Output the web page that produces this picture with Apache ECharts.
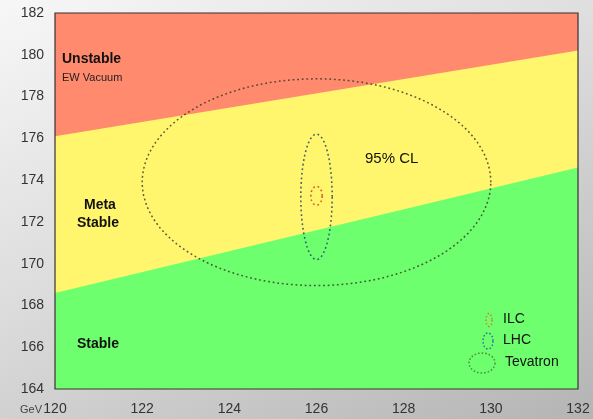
<!DOCTYPE html>
<html>
<head>
<meta charset="utf-8">
<script src="https://cdn.jsdelivr.net/npm/echarts@6/dist/echarts.min.js"></script>
<style>
  html, body { margin: 0; padding: 0; }
  body {
    width: 593px; height: 419px; overflow: hidden;
    background: linear-gradient(155deg, #f7f7f7 0%, #dcdcdc 45%, #b4b4b4 100%);
  }
  #chart { width: 593px; height: 419px; }
</style>
</head>
<body>
<div id="chart"></div>
<script>
// Higgs mass (GeV) axis and top mass axis ticks
const xTicks = [120, 122, 124, 126, 128, 130, 132];
const yTicks = [164, 166, 168, 170, 172, 174, 176, 178, 180, 182];

// Stability boundaries: [mH, mt] at both ends of the mH range
const upperBoundary = [[120, 176.1], [132, 180.2]];   // unstable / meta-stable
const lowerBoundary = [[120, 168.6], [132, 174.6]];   // meta-stable / stable
const topEdge = [[120, 182], [132, 182]];

// 95% CL regions: [centre mH, centre mt, half-width mH, half-height mt]
const ilc = [126, 173.25, 0.13, 0.45];
const lhc = [126, 173.2, 0.36, 3.0];
const tevatron = [126, 173.9, 4.0, 4.95];

const font = '"Liberation Sans", Arial, Helvetica, sans-serif';

function band(data, color) {
  return {
    type: 'line', data: data, symbol: 'none', silent: true,
    lineStyle: { width: 0 },
    areaStyle: { color: color, opacity: 1, origin: 'start' },
    z: 1
  };
}

function ringPoints(toPixel, cx, cy, rx, ry) {
  const pts = [];
  for (let i = 0; i < 96; i++) {
    const a = (i / 96) * Math.PI * 2;
    pts.push(toPixel(cx + rx * Math.cos(a), cy + ry * Math.sin(a)));
  }
  return pts;
}

function ellipseSeries(params, color, width) {
  return {
    type: 'custom',
    data: [params],
    silent: true,
    z: 5,
    renderItem: function (p, api) {
      const pts = ringPoints(function (x, y) { return api.coord([x, y]); },
        api.value(0), api.value(1), api.value(2), api.value(3));
      return {
        type: 'polygon',
        shape: { points: pts },
        style: { fill: null, stroke: color, lineWidth: width, lineDash: [1.8, 2.8] }
      };
    }
  };
}

// small dotted ring used as a legend key (pixel space)
function legendKey(cx, cy, rx, ry, color) {
  return {
    type: 'polygon',
    shape: { points: ringPoints(function (x, y) { return [x, y]; }, cx, cy, rx, ry) },
    style: { fill: null, stroke: color, lineWidth: 1.5, lineDash: [1.6, 2] },
    z: 20
  };
}

function label(text, left, top, style) {
  return { type: 'text', left: left, top: top, z: 20, style: Object.assign({ text: text, fill: '#111' }, style) };
}

const chart = echarts.init(document.getElementById('chart'));
chart.setOption({
  animation: false,
  backgroundColor: 'transparent',
  grid: { left: 55, right: 15, top: 13, bottom: 30, show: true, borderColor: '#3a3030', borderWidth: 1.2, z: 10 },
  xAxis: {
    type: 'value', min: xTicks[0], max: xTicks[xTicks.length - 1], interval: 2,
    axisLine: { show: false }, axisTick: { show: false }, splitLine: { show: false },
    axisLabel: { color: '#333', fontSize: 14, fontFamily: font, margin: 13 }
  },
  yAxis: {
    type: 'value', min: yTicks[0], max: yTicks[yTicks.length - 1], interval: 2,
    axisLine: { show: false }, axisTick: { show: false }, splitLine: { show: false },
    axisLabel: { color: '#333', fontSize: 14, fontFamily: font, margin: 11 }
  },
  series: [
    band(topEdge, '#ff8a6e'),
    band(upperBoundary, '#fff66e'),
    band(lowerBoundary, '#6eff6e'),
    ellipseSeries(tevatron, 'rgba(60,60,40,0.85)', 1.5),
    ellipseSeries(lhc, 'rgba(40,70,110,0.85)', 1.6),
    ellipseSeries(ilc, '#e0552a', 1.6)
  ],
  graphic: [
    label('GeV', 20, 404, { font: '11px ' + font, fill: '#444' }),
    label('Unstable', 62, 52, { font: 'bold 14px ' + font }),
    label('EW Vacuum', 62, 72, { font: '11px ' + font, fill: '#222' }),
    label('Meta', 84, 198, { font: 'bold 14px ' + font }),
    label('Stable', 77, 216, { font: 'bold 14px ' + font }),
    label('Stable', 77, 337, { font: 'bold 14px ' + font }),
    label('95% CL', 365, 151, { font: '15px ' + font }),
    legendKey(489, 320, 3, 6.5, '#d08228'),
    label('ILC', 503, 312, { font: '14px ' + font }),
    legendKey(488, 341, 5, 8, '#2f6fa8'),
    label('LHC', 503, 333, { font: '14px ' + font }),
    legendKey(482, 363, 13, 10, '#45903a'),
    label('Tevatron', 505, 355, { font: '14px ' + font })
  ]
});
</script>
</body>
</html>
